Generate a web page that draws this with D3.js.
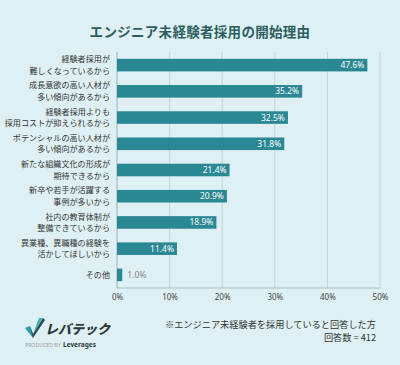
<!DOCTYPE html>
<html>
<head>
<meta charset="utf-8">
<script src="https://cdn.jsdelivr.net/npm/d3@7"></script>
<style>
  html, body { margin: 0; padding: 0; background: #def0f4; }
  svg { display: block; font-family: "Noto Sans CJK JP", "Noto Sans", sans-serif; }
</style>
</head>
<body>
<div id="chart"></div>
<script>
// reasons (two-line labels), share of respondents in %
const reasons = [
  ["経験者採用が", "難しくなっているから"],
  ["成長意欲の高い人材が", "多い傾向があるから"],
  ["経験者採用よりも", "採用コストが抑えられるから"],
  ["ポテンシャルの高い人材が", "多い傾向があるから"],
  ["新たな組織文化の形成が", "期待できるから"],
  ["新卒や若手が活躍する", "事例が多いから"],
  ["社内の教育体制が", "整備できているから"],
  ["異業種、異職種の経験を", "活かしてほしいから"],
  ["その他"],
];
const shares = [47.6, 35.2, 32.5, 31.8, 21.4, 20.9, 18.9, 11.4, 1.0];
const tickValues = [0, 10, 20, 30, 40, 50];

const W = 400, H = 365;
const barColor = "#2a8894";

const svg = d3.select("#chart").append("svg")
  .attr("width", W).attr("height", H);

svg.append("rect").attr("width", W).attr("height", H).attr("fill", "#def0f4");

svg.append("text")
  .attr("x", 200).attr("y", 37)
  .attr("text-anchor", "middle")
  .attr("font-size", "13.5px").attr("font-weight", 700)
  .attr("fill", "#2c5e5f").attr("letter-spacing", "0.3px")
  .text("エンジニア未経験者採用の開始理由");

const x = d3.scaleLinear().domain([0, 50]).range([117, 380]);
const y = d3.scaleBand().domain(d3.range(reasons.length)).range([52, 288]).paddingInner(0.52).paddingOuter(0.26);

// grid
svg.append("g").selectAll("line").data(tickValues.slice(1)).join("line")
  .attr("x1", (d) => x(d)).attr("x2", (d) => x(d))
  .attr("y1", 52).attr("y2", 288)
  .attr("stroke", "#c3d3d8").attr("stroke-width", 1);

// x axis line + tick labels
svg.append("line")
  .attr("x1", x(0)).attr("x2", x(50)).attr("y1", 288).attr("y2", 288)
  .attr("stroke", "#aabbc0");
svg.append("line")
  .attr("x1", x(0)).attr("x2", x(0)).attr("y1", 52).attr("y2", 288)
  .attr("stroke", "#9aaeb3");

const xAxis = svg.append("g")
  .attr("transform", "translate(0,288)")
  .call(d3.axisBottom(x).tickValues(tickValues).tickFormat((d) => d + "%").tickSize(0).tickPadding(6));
xAxis.select(".domain").remove();
xAxis.selectAll("text").attr("font-size", "8px").attr("fill", "#444")
  .attr("font-family", "'Noto Sans', sans-serif");

// bars
svg.append("g").selectAll("rect").data(shares).join("rect")
  .attr("x", x(0)).attr("y", (d, i) => y(i))
  .attr("width", (d) => x(d) - x(0)).attr("height", y.bandwidth())
  .attr("fill", barColor);

// value labels
svg.append("g").selectAll("text").data(shares).join("text")
  .attr("x", (d) => d < 5 ? x(d) + 5 : x(d) - 3)
  .attr("y", (d, i) => y(i) + y.bandwidth() / 2)
  .attr("dy", "0.35em")
  .attr("text-anchor", (d) => d < 5 ? "start" : "end")
  .attr("font-size", "8.5px")
  .attr("font-family", "'Noto Sans', sans-serif")
  .attr("fill", (d) => d < 5 ? "#888" : "#fff")
  .text((d) => d.toFixed(1) + "%");

// category labels
const lab = svg.append("g").selectAll("text").data(reasons).join("text")
  .attr("text-anchor", "end")
  .attr("font-size", "8.1px").attr("fill", "#333");
lab.each(function (lines, i) {
  const cy = y(i) + y.bandwidth() / 2;
  const t = d3.select(this);
  lines.forEach((s, k) => {
    t.append("tspan").attr("x", 110)
      .attr("y", cy + (k - (lines.length - 1) / 2) * 11.5)
      .attr("dy", "0.35em").text(s);
  });
});

// footnote
svg.append("text").attr("x", 376).attr("y", 328).attr("text-anchor", "end")
  .attr("font-size", "9.2px").attr("fill", "#333")
  .text("※エンジニア未経験者を採用していると回答した方");
svg.append("text").attr("x", 376).attr("y", 340.5).attr("text-anchor", "end")
  .attr("font-size", "9.2px").attr("fill", "#333")
  .text("回答数 = 412");

// logo
const logo = svg.append("g").attr("transform", "translate(25,320)");
logo.append("path").attr("d", "M0,8 L5,6 L8,14 L8,18 Z").attr("fill", "#2f9ca8");
logo.append("path").attr("d", "M5,6 L8,14 L18,-2 L20,0 L8,18 Z").attr("fill", "#2a4a50");
logo.append("path").attr("d", "M8,14 L18,-2 L14,-2 Z").attr("fill", "#3bb3bf");
logo.append("text").attr("x", 20).attr("y", 14)
  .attr("font-size", "13px").attr("font-weight", 900).attr("font-style", "italic")
  .attr("fill", "#2a3a40").text("レバテック");
logo.append("text").attr("x", 0).attr("y", 27)
  .attr("font-size", "5.2px").attr("fill", "#999")
  .attr("font-family", "'Noto Sans', sans-serif")
  .text("PRODUCED BY");
logo.append("text").attr("x", 38).attr("y", 27)
  .attr("font-size", "6.5px").attr("font-weight", 700).attr("fill", "#2a3a40")
  .attr("font-family", "'Noto Sans', sans-serif")
  .text("Leverages");
</script>
</body>
</html>
